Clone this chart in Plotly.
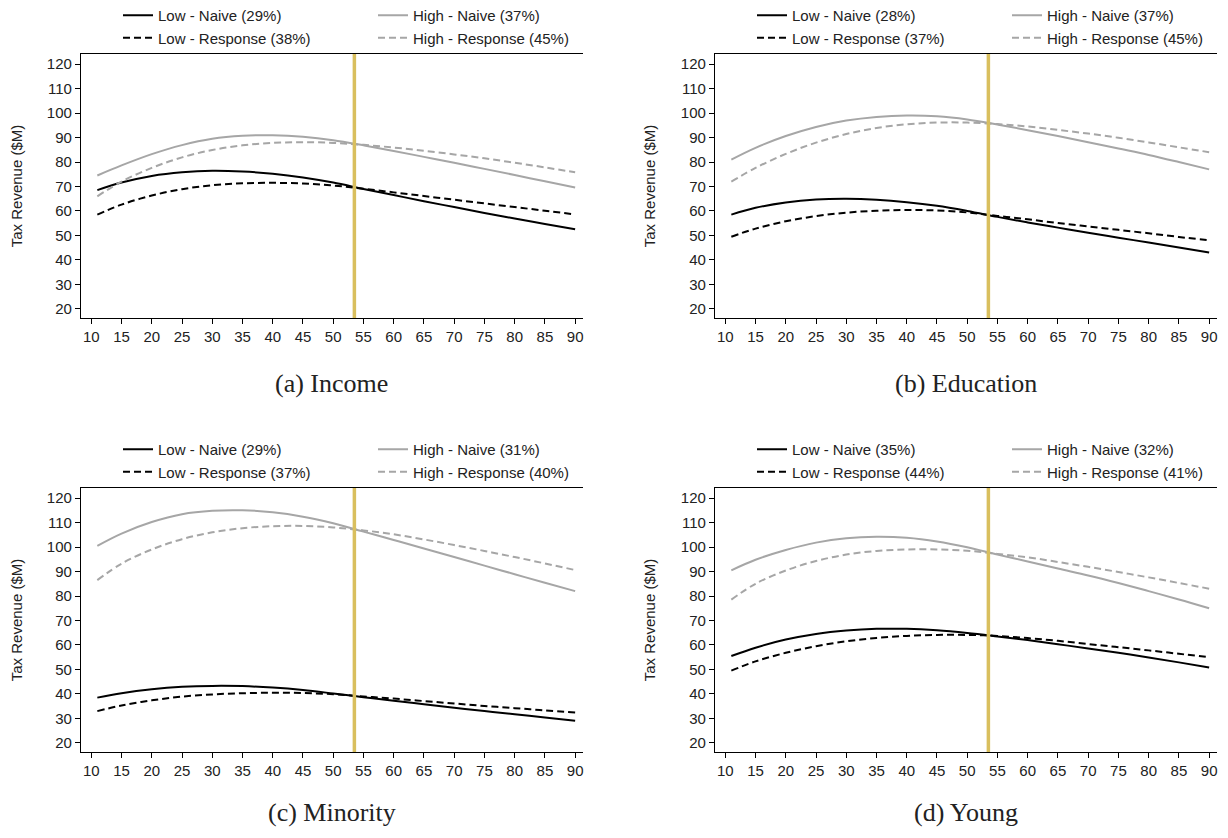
import plotly.graph_objects as go

x_vals = [11, 15, 20, 25, 30, 35, 40, 45, 50, 55, 60, 65, 70, 75, 80, 85, 90]
cutoff = 53.5

# Panel (a) Income
a_low_naive = [68.5, 71.6, 74.3, 75.8, 76.4, 76.1, 75.2, 73.7, 71.6, 69.0, 66.5, 64.0, 61.6, 59.2, 56.9, 54.7, 52.5]
a_low_resp = [58.5, 62.6, 66.3, 68.9, 70.5, 71.3, 71.5, 71.2, 70.4, 69.1, 67.6, 66.1, 64.6, 63.1, 61.6, 60.1, 58.6]
a_high_naive = [74.5, 78.6, 83.2, 86.9, 89.5, 90.7, 90.9, 90.3, 88.9, 86.8, 84.5, 82.1, 79.7, 77.2, 74.7, 72.1, 69.6]
a_high_resp = [66.0, 72.0, 77.6, 81.9, 84.9, 86.8, 87.8, 88.1, 87.8, 87.0, 85.9, 84.6, 83.1, 81.5, 79.7, 77.8, 75.8]
a_labels = ["Low - Naive (29%)", "High - Naive (37%)", "Low - Response (38%)", "High - Response (45%)"]

# Panel (b) Education
b_low_naive = [58.5, 61.3, 63.5, 64.7, 65.0, 64.6, 63.6, 62.1, 60.0, 57.6, 55.3, 53.2, 51.1, 49.1, 47.1, 45.1, 43.0]
b_low_resp = [49.5, 52.8, 55.8, 57.9, 59.3, 60.1, 60.4, 60.2, 59.4, 58.0, 56.6, 55.1, 53.7, 52.3, 50.9, 49.4, 48.0]
b_high_naive = [81.0, 85.8, 90.6, 94.3, 96.9, 98.4, 99.0, 98.7, 97.4, 95.3, 93.0, 90.6, 88.1, 85.5, 82.9, 80.0, 77.0]
b_high_resp = [72.0, 77.6, 83.3, 87.9, 91.4, 93.9, 95.4, 96.1, 96.1, 95.5, 94.5, 93.1, 91.6, 89.9, 88.0, 86.0, 84.0]
b_labels = ["Low - Naive (28%)", "High - Naive (37%)", "Low - Response (37%)", "High - Response (45%)"]

# Panel (c) Minority
c_low_naive = [38.5, 40.3, 41.9, 42.9, 43.3, 43.2, 42.6, 41.6, 40.2, 38.7, 37.2, 35.8, 34.4, 33.0, 31.7, 30.4, 29.1]
c_low_resp = [33.0, 35.3, 37.4, 38.9, 39.8, 40.3, 40.5, 40.4, 39.9, 39.0, 38.1, 37.1, 36.1, 35.1, 34.2, 33.3, 32.4]
c_high_naive = [100.5, 105.5, 110.2, 113.4, 114.8, 115.0, 114.2, 112.4, 109.7, 106.3, 102.9, 99.4, 95.9, 92.4, 88.9, 85.4, 82.0]
c_high_resp = [86.5, 93.2, 99.0, 103.2, 106.0, 107.7, 108.5, 108.6, 108.0, 106.8, 105.2, 103.1, 100.8, 98.4, 95.9, 93.3, 90.6]
c_labels = ["Low - Naive (29%)", "High - Naive (31%)", "Low - Response (37%)", "High - Response (40%)"]

# Panel (d) Young
d_low_naive = [55.5, 58.9, 62.2, 64.5, 65.9, 66.6, 66.6, 66.0, 64.9, 63.5, 62.0, 60.3, 58.6, 56.8, 54.9, 52.9, 50.8]
d_low_resp = [49.5, 53.3, 56.8, 59.5, 61.5, 62.9, 63.7, 64.1, 64.1, 63.7, 62.8, 61.7, 60.4, 59.1, 57.8, 56.4, 55.0]
d_high_naive = [90.5, 94.8, 98.8, 101.8, 103.6, 104.2, 103.8, 102.3, 99.9, 96.9, 94.1, 91.2, 88.4, 85.3, 82.0, 78.6, 75.0]
d_high_resp = [78.5, 85.0, 90.4, 94.3, 96.9, 98.4, 99.0, 99.0, 98.5, 97.2, 95.8, 93.9, 91.9, 89.8, 87.6, 85.3, 83.0]
d_labels = ["Low - Naive (35%)", "High - Naive (32%)", "Low - Response (44%)", "High - Response (41%)"]

captions = ["(a) Income", "(b) Education", "(c) Minority", "(d) Young"]
x_ticks = list(range(10, 91, 5))
y_ticks = list(range(20, 121, 10))

panels = [
    (a_low_naive, a_high_naive, a_low_resp, a_high_resp, a_labels),
    (b_low_naive, b_high_naive, b_low_resp, b_high_resp, b_labels),
    (c_low_naive, c_high_naive, c_low_resp, c_high_resp, c_labels),
    (d_low_naive, d_high_naive, d_low_resp, d_high_resp, d_labels),
]

OFF = 8  # page body margin
W, H = 1220, 821
# pixel boxes in page coordinates (left, right, top, bottom)
boxes = [(81, 583, 54, 318), (715, 1217, 54, 318), (81, 583, 488, 752), (715, 1217, 488, 752)]
caption_y = [383, 383, 812, 812]

BLACK = "#000000"
GRAY = "#a6a6a6"
GOLD = "#d9bf5e"
DASH = "7px,4px"
FONT = "Liberation Sans, Arial, sans-serif"


def px(v):
    return (v - OFF) / W


def py(v):
    return 1 - (v - OFF) / H


fig = go.Figure()
layout = dict(width=W, height=H, margin=dict(l=0, r=0, t=0, b=0, autoexpand=False),
              paper_bgcolor="white", plot_bgcolor="white", showlegend=True)
annotations = []

for i, (ln, hn, lr, hr, labels) in enumerate(panels):
    k = i + 1
    xa = "x" if k == 1 else f"x{k}"
    ya = "y" if k == 1 else f"y{k}"
    l, r, t, b = boxes[i]
    leg1 = "legend" if i == 0 else f"legend{2*i+1}"
    leg2 = f"legend{2*i+2}"
    styles = [(ln, BLACK, "solid", labels[0], leg1),
              (lr, BLACK, DASH, labels[2], leg1),
              (hn, GRAY, "solid", labels[1], leg2),
              (hr, GRAY, DASH, labels[3], leg2)]
    for yv, col, dash, name, leg in styles:
        fig.add_trace(go.Scatter(x=x_vals, y=yv, mode="lines", name=name,
                                 line=dict(color=col, width=2, dash=dash, shape="spline", smoothing=1.0),
                                 xaxis=xa, yaxis=ya, legend=leg, hoverinfo="skip"))
    axkey = "xaxis" if k == 1 else f"xaxis{k}"
    aykey = "yaxis" if k == 1 else f"yaxis{k}"
    layout[axkey] = dict(domain=[px(l), px(r)], anchor=ya, range=[8.3, 91.3],
                         tickvals=x_ticks, ticks="outside", ticklen=5, tickcolor="black",
                         showline=True, linecolor="black", linewidth=1.3, mirror=True,
                         showgrid=False, zeroline=False,
                         tickfont=dict(family=FONT, size=15, color="#222"))
    layout[aykey] = dict(domain=[py(b), py(t)], anchor=xa, range=[16.3, 124.1],
                         tickvals=y_ticks, ticks="outside", ticklen=5, tickcolor="black",
                         showline=True, linecolor="black", linewidth=1.3,
                         showgrid=False, zeroline=False,
                         tickfont=dict(family=FONT, size=15, color="#222"),
                         title=dict(text="Tax Revenue ($M)", standoff=21,
                                    font=dict(family=FONT, size=15, color="#222")))
    # legends
    for j, lg in enumerate([leg1, leg2]):
        layout[lg] = dict(x=px(l + 37 + j * 255), y=py(t - 55), xanchor="left", yanchor="top",
                          orientation="v", bgcolor="rgba(0,0,0,0)", borderwidth=0,
                          tracegroupgap=0, itemwidth=30,
                          font=dict(family=FONT, size=15, color="#222"))
    # cutoff line
    fig.add_shape(type="line", xref=xa, yref=f"{ya} domain", x0=cutoff, x1=cutoff, y0=0, y1=1,
                  line=dict(color=GOLD, width=3.5))
    annotations.append(dict(text=captions[i], xref="paper", yref="paper",
                            x=px((l + r) / 2), y=py(caption_y[i]), xanchor="center", yanchor="middle",
                            showarrow=False,
                            font=dict(family="Liberation Serif, DejaVu Serif, serif", size=26, color="#222")))

layout["annotations"] = annotations
fig.update_layout(**layout)
fig.write_html("out.html")
